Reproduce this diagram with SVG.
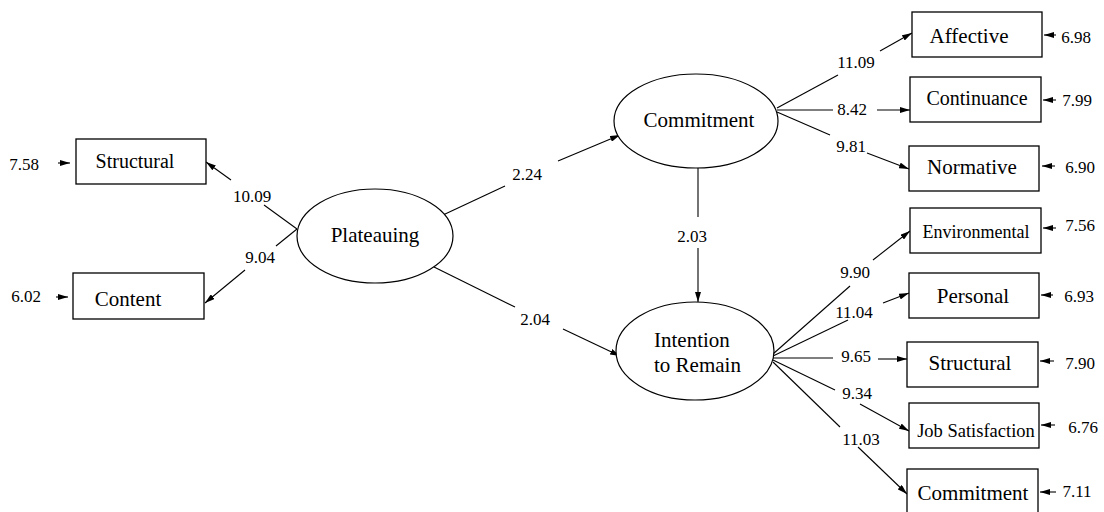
<svg xmlns="http://www.w3.org/2000/svg" width="1104" height="512" viewBox="0 0 1104 512" font-family="'Liberation Serif', 'Times New Roman', Times, serif">
<style>
.box{fill:#fff;stroke:#000;stroke-width:1.3}
.ell{fill:#fff;stroke:#000;stroke-width:1.2}
.ln{stroke:#000;stroke-width:1.1;fill:none}
text{font-family:'Liberation Serif','Times New Roman',Times,serif}
.t{font-size:21px;fill:#000;text-anchor:middle}
.n{font-size:17px;fill:#000;text-anchor:middle}
</style>
<defs>
<marker id="ah" markerUnits="userSpaceOnUse" markerWidth="10" markerHeight="6" refX="10" refY="3" orient="auto">
<path d="M0,0 L10,3 L0,6 z" fill="#000"/>
</marker>
</defs>
<g id="connectors">
<line class="ln" x1="231" y1="180" x2="206" y2="162" marker-end="url(#ah)"/>
<line class="ln" x1="297" y1="229" x2="264" y2="205"/>
<line class="ln" x1="297" y1="229" x2="276" y2="246"/>
<line class="ln" x1="245" y1="270" x2="205" y2="303" marker-end="url(#ah)"/>
<line class="ln" x1="443" y1="215" x2="505" y2="186"/>
<line class="ln" x1="558" y1="161" x2="620" y2="135" marker-end="url(#ah)"/>
<line class="ln" x1="434" y1="267" x2="515" y2="307"/>
<line class="ln" x1="563" y1="329" x2="620" y2="356" marker-end="url(#ah)"/>
<line class="ln" x1="698" y1="168" x2="698" y2="217"/>
<line class="ln" x1="698" y1="248" x2="698" y2="302" marker-end="url(#ah)"/>
<line class="ln" x1="777" y1="108" x2="838" y2="75"/>
<line class="ln" x1="880" y1="51" x2="912" y2="33" marker-end="url(#ah)"/>
<line class="ln" x1="777" y1="110" x2="833" y2="110"/>
<line class="ln" x1="877" y1="110" x2="910" y2="110" marker-end="url(#ah)"/>
<line class="ln" x1="777" y1="112" x2="830" y2="135"/>
<line class="ln" x1="867" y1="153" x2="909" y2="169" marker-end="url(#ah)"/>
<line class="ln" x1="773" y1="354" x2="850" y2="286"/>
<line class="ln" x1="873" y1="260" x2="910" y2="231" marker-end="url(#ah)"/>
<line class="ln" x1="773" y1="356" x2="848" y2="320"/>
<line class="ln" x1="883" y1="303" x2="909" y2="293" marker-end="url(#ah)"/>
<line class="ln" x1="773" y1="358" x2="833" y2="358"/>
<line class="ln" x1="878" y1="359" x2="907" y2="359" marker-end="url(#ah)"/>
<line class="ln" x1="773" y1="360" x2="835" y2="390"/>
<line class="ln" x1="860" y1="404" x2="909" y2="431" marker-end="url(#ah)"/>
<line class="ln" x1="773" y1="362" x2="840" y2="427"/>
<line class="ln" x1="858" y1="447" x2="907" y2="494" marker-end="url(#ah)"/>
<line class="ln" x1="58" y1="163" x2="70" y2="163" marker-end="url(#ah)"/>
<line class="ln" x1="56" y1="297" x2="68" y2="297" marker-end="url(#ah)"/>
<line class="ln" x1="1056" y1="35" x2="1044" y2="35" marker-end="url(#ah)"/>
<line class="ln" x1="1056" y1="100" x2="1043" y2="100" marker-end="url(#ah)"/>
<line class="ln" x1="1055" y1="166" x2="1042" y2="166" marker-end="url(#ah)"/>
<line class="ln" x1="1056" y1="228" x2="1043" y2="228" marker-end="url(#ah)"/>
<line class="ln" x1="1053" y1="295" x2="1041" y2="295" marker-end="url(#ah)"/>
<line class="ln" x1="1054" y1="361" x2="1040" y2="361" marker-end="url(#ah)"/>
<line class="ln" x1="1055" y1="425" x2="1041" y2="425" marker-end="url(#ah)"/>
<line class="ln" x1="1056" y1="492" x2="1040" y2="492" marker-end="url(#ah)"/>
</g>
<g id="labels">
<text class="n" x="252" y="202">10.09</text>
<text class="n" x="260" y="263">9.04</text>
<text class="n" x="527" y="180">2.24</text>
<text class="n" x="535" y="325">2.04</text>
<text class="n" x="692" y="242">2.03</text>
<text class="n" x="856" y="68">11.09</text>
<text class="n" x="852" y="115">8.42</text>
<text class="n" x="851" y="152">9.81</text>
<text class="n" x="855" y="278">9.90</text>
<text class="n" x="854" y="318">11.04</text>
<text class="n" x="856" y="362">9.65</text>
<text class="n" x="857" y="399">9.34</text>
<text class="n" x="861" y="445">11.03</text>
<text class="n" x="24" y="170">7.58</text>
<text class="n" x="26" y="302">6.02</text>
<text class="n" x="1076" y="43">6.98</text>
<text class="n" x="1077" y="106">7.99</text>
<text class="n" x="1080" y="173">6.90</text>
<text class="n" x="1080" y="231">7.56</text>
<text class="n" x="1079" y="302">6.93</text>
<text class="n" x="1080" y="369">7.90</text>
<text class="n" x="1083" y="433">6.76</text>
<text class="n" x="1077" y="497">7.11</text>
</g>
<g id="node-plateauing"><ellipse class="ell" cx="375" cy="236" rx="78" ry="47"/><text class="t" x="375" y="242">Plateauing</text></g>
<g id="node-commitment"><ellipse class="ell" cx="696" cy="121" rx="82" ry="47"/><text class="t" x="699" y="127">Commitment</text></g>
<g id="node-intention"><ellipse class="ell" cx="695" cy="351" rx="79" ry="49"/><text class="t" x="654" y="347" style="text-anchor:start">Intention</text><text class="t" x="654" y="372" style="text-anchor:start">to Remain</text></g>
<g id="node-structural-left"><rect class="box" x="76" y="139" width="130" height="45"/><text class="t" x="135" y="168" style="font-size:20px">Structural</text></g>
<g id="node-content"><rect class="box" x="73" y="273" width="131" height="46"/><text class="t" x="128" y="306">Content</text></g>
<g id="node-affective"><rect class="box" x="912" y="12" width="130" height="45"/><text class="t" x="969" y="43">Affective</text></g>
<g id="node-continuance"><rect class="box" x="910" y="77" width="131" height="45"/><text class="t" x="977" y="105" style="font-size:20px">Continuance</text></g>
<g id="node-normative"><rect class="box" x="909" y="146" width="130" height="45"/><text class="t" x="972" y="174">Normative</text></g>
<g id="node-environmental"><rect class="box" x="910" y="208" width="131" height="45"/><text class="t" x="976" y="238" style="font-size:18px">Environmental</text></g>
<g id="node-personal"><rect class="box" x="909" y="273" width="130" height="45"/><text class="t" x="973" y="303">Personal</text></g>
<g id="node-structural-right"><rect class="box" x="907" y="342" width="131" height="45"/><text class="t" x="970" y="370">Structural</text></g>
<g id="node-jobsat"><rect class="box" x="909" y="403" width="130" height="45"/><text class="t" x="976" y="437" style="font-size:18.5px">Job Satisfaction</text></g>
<g id="node-commitment-ind"><rect class="box" x="907" y="469" width="131" height="46"/><text class="t" x="973" y="500">Commitment</text></g>
</svg>
